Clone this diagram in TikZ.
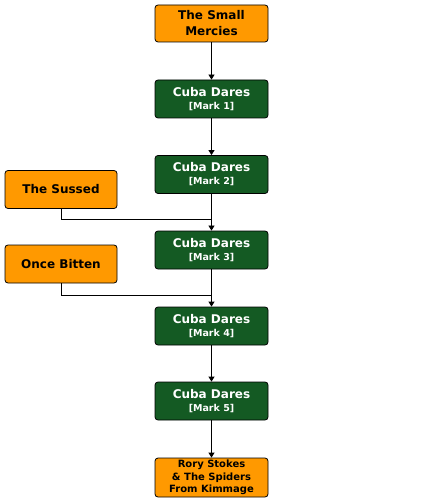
\documentclass[tikz,border=0pt]{standalone}
\usepackage{fontspec}
\setmainfont{DejaVu Sans}
\usetikzlibrary{arrows.meta}
\definecolor{orng}{HTML}{FF9900}
\definecolor{grn}{HTML}{145A23}
\newcommand{\subtxt}[1]{{\fontsize{9.5}{10}\selectfont #1}}
\begin{document}
\begin{tikzpicture}[x=1pt,y=-1pt,
  box/.style={draw=black,line width=0.8pt,rounded corners=3pt,minimum width=113pt,align=center,inner sep=0pt,font=\bfseries\fontsize{12}{16}\selectfont},
  obox/.style={box,fill=orng,text=black},
  gbox/.style={box,fill=grn,text=white,minimum height=38pt,font=\bfseries\fontsize{12}{13}\selectfont},
  arr/.style={line width=0.8pt,-{Triangle[length=5pt,width=6pt]}},
  ln/.style={line width=0.8pt}]
\useasboundingbox (0,0) rectangle (427,502);
\node[obox,minimum height=37pt] (sm) at (211.5,23.5) {The Small\\Mercies};
\node[gbox] (m1) at (211.5,99) {Cuba Dares\\\subtxt{[Mark 1]}};
\node[gbox] (m2) at (211.5,174.5) {Cuba Dares\\\subtxt{[Mark 2]}};
\node[gbox] (m3) at (211.5,250) {Cuba Dares\\\subtxt{[Mark 3]}};
\node[gbox] (m4) at (211.5,326) {Cuba Dares\\\subtxt{[Mark 4]}};
\node[gbox] (m5) at (211.5,401) {Cuba Dares\\\subtxt{[Mark 5]}};
\node[obox,minimum height=39pt,font=\bfseries\fontsize{10}{12.5}\selectfont] (rs) at (211.5,477.5) {Rory Stokes\\\& The Spiders\\From Kimmage};
\node[obox,minimum width=112pt,minimum height=38pt] (su) at (61,189.5) {The Sussed};
\node[obox,minimum width=112pt,minimum height=38pt] (ob) at (61,264) {Once Bitten};
\draw[arr] (sm) -- (m1);
\draw[arr] (m1) -- (m2);
\draw[arr] (m2) -- (m3);
\draw[arr] (m3) -- (m4);
\draw[arr] (m4) -- (m5);
\draw[arr] (m5) -- (rs);
\coordinate (j1) at (211.5,219);
\coordinate (j2) at (211.5,295);
\draw[ln] (su.south) |- (j1);
\draw[ln] (ob.south) |- (j2);
\end{tikzpicture}
\end{document}
